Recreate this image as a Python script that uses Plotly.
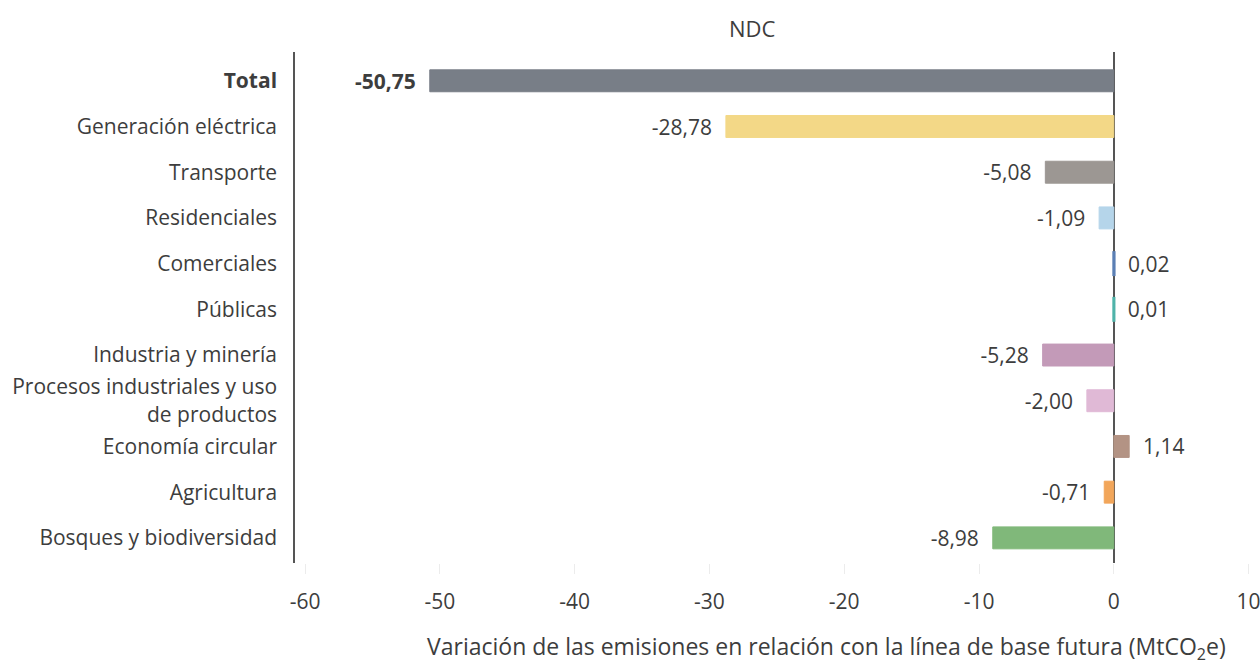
import plotly.graph_objects as go

categories = [
    "Total",
    "Generación eléctrica",
    "Transporte",
    "Residenciales",
    "Comerciales",
    "Públicas",
    "Industria y minería",
    "Procesos industriales y uso<br>de productos",
    "Economía circular",
    "Agricultura",
    "Bosques y biodiversidad",
]
values = [-50.75, -28.78, -5.08, -1.09, 0.02, 0.01, -5.28, -2.00, 1.14, -0.71, -8.98]
bar_colors = ["#787e87", "#f3d887", "#9c9793", "#b5d5ea", "#5b7fb4", "#4fb3a9",
              "#c39ab8", "#e0b9d6", "#b39384", "#f2a65a", "#80b87a"]
x_ticks = [-60, -50, -40, -30, -20, -10, 0, 10]

FONT = "'Open Sans', 'Noto Sans', sans-serif"
TXT = "#3d3d3d"
PAD = "\u00a0\u00a0"

# decimal comma, padded away from the bar end; total is bold
labels = []
for v in values:
    s = f"{v:.2f}".replace(".", ",")
    labels.append(s + PAD if v < 0 else PAD + s)
labels[0] = f"<b>{labels[0]}</b>"
ticktext = [f"<b>{c}</b>" if c == "Total" else c for c in categories]

# near-zero bars get a thicker outline so they stay visible next to the zero line
edge_w = [3 if abs(v) < 0.1 else 1 for v in values]

fig = go.Figure()
fig.add_trace(go.Bar(
    x=values,
    y=list(range(len(categories))),
    orientation="h",
    marker=dict(color=bar_colors, line=dict(color=bar_colors, width=edge_w)),
    text=labels,
    textposition="outside",
    constraintext="none",
    textfont=dict(size=21, color=TXT, family=FONT),
    cliponaxis=False,
    width=0.48,
    hoverinfo="x+y",
))

fig.update_layout(
    width=1260, height=664,
    margin=dict(l=295, r=11, t=52, b=101, autoexpand=False),
    plot_bgcolor="white", paper_bgcolor="white",
    font=dict(family=FONT, color=TXT, size=20),
    showlegend=False,
    xaxis=dict(
        range=[-60.75, 10.03],
        tickvals=x_ticks,
        ticktext=[str(t) for t in x_ticks],
        showgrid=False,
        zeroline=True, zerolinecolor="#555555", zerolinewidth=2,
        ticks="outside", ticklen=10, tickcolor="#ececec",
        ticklabelstandoff=10,
        ticklabeloverflow="allow",
        automargin=False,
        tickfont=dict(size=21, color=TXT),
        showline=False,
    ),
    yaxis=dict(
        range=[10.55, -0.63],
        tickvals=list(range(len(categories))),
        ticktext=ticktext,
        showgrid=False,
        zeroline=False,
        automargin=False,
        showline=True, linecolor="#555555", linewidth=1.5,
        ticks="", ticklabelstandoff=12,
        tickfont=dict(size=21, color=TXT),
    ),
    annotations=[
        dict(text="NDC", x=752, y=28, showarrow=False,
             font=dict(size=22, color=TXT)),
        dict(text="Variación de las emisiones en relación con la línea de base futura (MtCO<sub>2</sub>e)",
             x=826, y=647, showarrow=False, font=dict(size=23, color=TXT)),
    ],
)

# place annotations by pixel position
W, H = 1260, 664
l, r, t, b = 295, 11, 52, 101
for a in fig.layout.annotations:
    px_x, px_y = a.x, a.y
    a.xref, a.yref = "paper", "paper"
    a.x = (px_x - l) / (W - l - r)
    a.y = (H - b - px_y) / (H - t - b)
    a.xanchor, a.yanchor = "center", "middle"

fig.write_html("out.html", config={"displayModeBar": False},
               post_script="document.body.style.margin='0';")
